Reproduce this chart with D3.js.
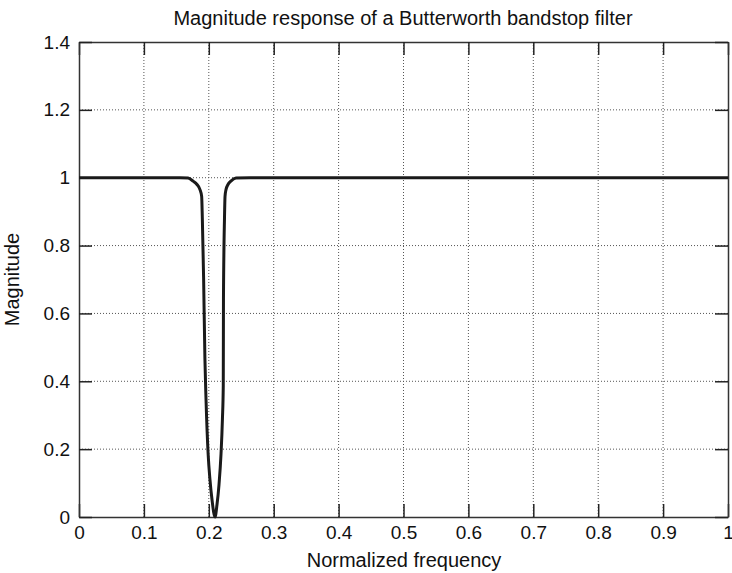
<!DOCTYPE html>
<html>
<head>
<meta charset="utf-8">
<script src="https://cdn.jsdelivr.net/npm/d3@7/dist/d3.min.js"></script>
<style>
  html, body { margin: 0; padding: 0; background: #fff; }
  svg { display: block; font-family: "Liberation Sans", Arial, Helvetica, sans-serif; }
</style>
</head>
<body>
<svg id="chart" width="732" height="573"></svg>
<script>
// ---- data ----
const freq = [0, 0.1, 0.1556, 0.168, 0.1757, 0.1818, 0.1864, 0.189, 0.190, 0.192, 0.194, 0.1957, 0.199, 0.2018, 0.205, 0.2096,
              0.2126, 0.2157, 0.2188, 0.221, 0.2223, 0.2226, 0.2242, 0.225, 0.2265, 0.2296, 0.234, 0.2419, 0.2635, 0.5, 1];
const magnitude = [1, 1, 1, 0.999, 0.99, 0.98, 0.965, 0.945, 0.883, 0.705, 0.467, 0.348, 0.185, 0.11, 0.05, 0,
                   0.036, 0.095, 0.185, 0.289, 0.387, 0.645, 0.883, 0.945, 0.965, 0.98, 0.99, 0.999, 1, 1, 1];
const xTicks = [0, 0.1, 0.2, 0.3, 0.4, 0.5, 0.6, 0.7, 0.8, 0.9, 1];
const yTicks = [0, 0.2, 0.4, 0.6, 0.8, 1, 1.2, 1.4];
const titleText = "Magnitude response of a Butterworth bandstop filter";
const xLabel = "Normalized frequency";
const yLabel = "Magnitude";

// ---- layout ----
const L = 79, R = 728, T = 42, B = 517;
const svg = d3.select("#chart");
const x = d3.scaleLinear().domain([0, 1]).range([L, R]);
const y = d3.scaleLinear().domain([0, 1.4]).range([B, T]);
const tickFmt = d => d3.format("")(+d.toFixed(1));

// grid
const grid = svg.append("g");
grid.selectAll("line.gx").data(xTicks.slice(1, -1)).join("line")
  .attr("x1", d => x(d)).attr("x2", d => x(d)).attr("y1", T).attr("y2", B)
  .attr("stroke", "#555").attr("stroke-width", 1).attr("stroke-dasharray", "1,2");
grid.selectAll("line.gy").data(yTicks.slice(1, -1)).join("line")
  .attr("x1", L).attr("x2", R).attr("y1", d => y(d)).attr("y2", d => y(d))
  .attr("stroke", "#555").attr("stroke-width", 1).attr("stroke-dasharray", "1,2");

// axes with inward ticks
const tl = 13;
const axB = svg.append("g").attr("transform", `translate(0,${B})`)
  .call(d3.axisBottom(x).tickValues(xTicks).tickFormat(tickFmt).tickSizeInner(-tl).tickSizeOuter(0).tickPadding(9));
const axT = svg.append("g").attr("transform", `translate(0,${T})`)
  .call(d3.axisTop(x).tickValues(xTicks).tickFormat("").tickSizeInner(-tl).tickSizeOuter(0));
const axL = svg.append("g").attr("transform", `translate(${L},0)`)
  .call(d3.axisLeft(y).tickValues(yTicks).tickFormat(tickFmt).tickSizeInner(-tl).tickSizeOuter(0).tickPadding(9));
const axR = svg.append("g").attr("transform", `translate(${R},0)`)
  .call(d3.axisRight(y).tickValues(yTicks).tickFormat("").tickSizeInner(-tl).tickSizeOuter(0));
[axB, axT, axL, axR].forEach(a => {
  a.select(".domain").attr("stroke", "#333").attr("stroke-width", 1.5);
  a.selectAll(".tick line").attr("stroke", "#222").attr("stroke-width", 1.5);
  a.selectAll(".tick text").attr("fill", "#111").attr("font-size", 19)
    .attr("font-family", '"Liberation Sans", Arial, sans-serif');
});

// curve
const line = d3.line().x((d, i) => x(freq[i])).y((d, i) => y(magnitude[i])).curve(d3.curveMonotoneX);
svg.append("path").datum(magnitude).attr("d", line)
  .attr("fill", "none").attr("stroke", "#1a1a1a").attr("stroke-width", 3).attr("stroke-linejoin", "round");

// texts
svg.append("text").attr("x", 403).attr("y", 25).attr("text-anchor", "middle")
  .attr("font-size", 20).attr("fill", "#111").text(titleText);
svg.append("text").attr("x", 404).attr("y", 567).attr("text-anchor", "middle")
  .attr("font-size", 20).attr("fill", "#111").text(xLabel);
svg.append("text").attr("transform", `translate(19,${(T + B) / 2}) rotate(-90)`).attr("text-anchor", "middle")
  .attr("font-size", 20).attr("fill", "#111").text(yLabel);
</script>
</body>
</html>
